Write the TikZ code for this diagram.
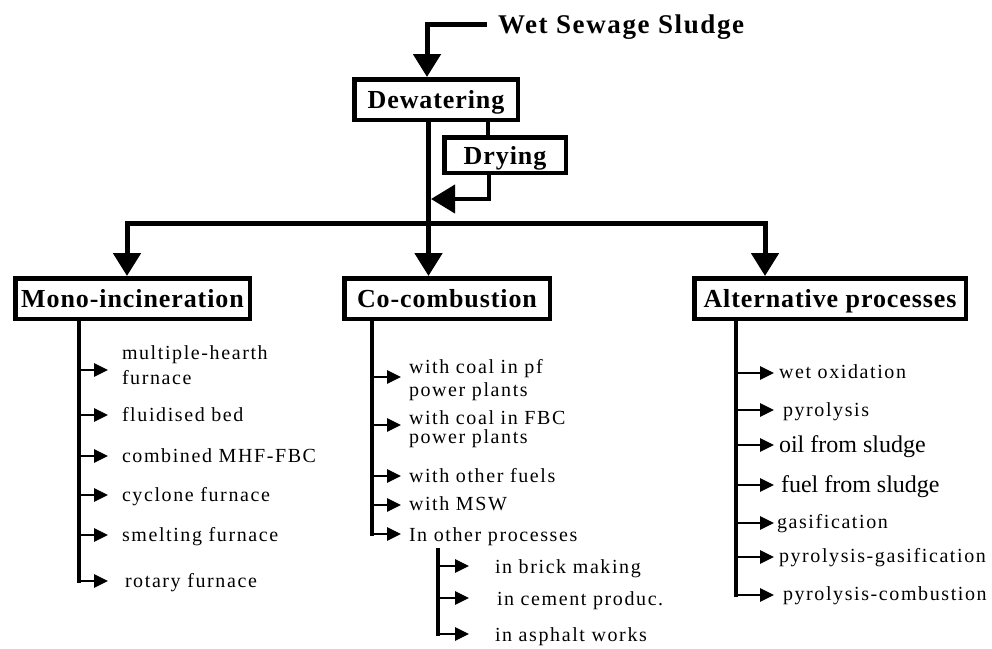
\documentclass[tikz,border=0pt]{standalone}
\usepackage{fontspec}
\setmainfont{Liberation Serif}
\newfontfamily\itemfont[LetterSpace=8]{Liberation Serif}
\newfontfamily\headfont[LetterSpace=3.5]{Liberation Serif}
\newfontfamily\titlefont[LetterSpace=6]{Liberation Serif}
\newfontfamily\plainitemfont{Liberation Serif}
\usetikzlibrary{arrows.meta}
\begin{document}
\begin{tikzpicture}[x=1pt,y=-1pt,
  hbox/.style={draw, line width=4.5pt, inner sep=0pt,
    font=\headfont\bfseries\fontsize{26}{30}\selectfont,
    text height=18pt, text depth=0pt},
  mainln/.style={line width=5pt},
  bigtip/.style={-{Triangle[length=23pt,width=27pt]}},
  midln/.style={line width=4pt},
  trunk/.style={line width=4.5pt, line cap=rect},
  subtrunk/.style={line width=3.5pt, line cap=rect},
  itmarrow/.style={line width=2.8pt, -{Triangle[length=14pt,width=13pt]}},
  itm/.style={anchor=base west, inner sep=0pt, align=left,
    font=\itemfont\fontsize{20}{25}\selectfont},
  bigitm/.style={anchor=base west, inner sep=0pt,
    font=\plainitemfont\fontsize{24}{28}\selectfont}
]
\useasboundingbox (0,0) rectangle (992,648);

% title and top boxes
\node[anchor=base west, inner ysep=0pt, inner xsep=0pt, outer xsep=11pt,
  text height=18pt, text depth=0pt,
  font=\titlefont\bfseries\fontsize{27}{30}\selectfont] (wss) at (487,33) {Wet Sewage Sludge};
\node[hbox, minimum width=163.5pt, minimum height=40.5pt] (dew) at (436,99.5) {Dewatering};
\node[hbox, minimum width=121.5pt, minimum height=35.5pt] (dry) at (505,155) {Drying};

% main boxes
\node[hbox, minimum width=234.5pt, minimum height=40.5pt] (mono) at (132.5,298.5) {Mono-incineration};
\node[hbox, minimum width=205.5pt, minimum height=40.5pt] (co) at (447,298.5) {Co-combustion};
\node[hbox, minimum width=271.5pt, minimum height=40.5pt] (alt) at (830,298.5) {Alternative processes};

% top connectors
\draw[mainln, bigtip] (wss.west) -| ([xshift=-9pt]dew.north);
\draw[midln] ([xshift=52pt]dew.south) -- ([xshift=-17pt]dry.north);
\coordinate (jn) at (431,199);
\draw[midln, -{Triangle[length=24pt,width=28pt]}] ([xshift=-16pt]dry.south) |- (jn);
\coordinate (tx) at (428.5,0);
\draw[mainln, bigtip] (dew.south -| tx) -- (co.north -| tx);
\coordinate (bl) at (127,223);
\coordinate (br) at (765,223);
\draw[mainln, line join=miter, {Triangle[length=23pt,width=27pt]}-{Triangle[length=23pt,width=27pt]}]
  (mono.north -| bl) |- (br) -- (alt.north -| br);

% Mono-incineration items
\coordinate (mx) at (79,0);
\coordinate (m1) at (79,370);
\coordinate (m2) at (79,415);
\coordinate (m3) at (79,456);
\coordinate (m4) at (79,495);
\coordinate (m5) at (79,535);
\coordinate (m6) at (79,581);
\node[itm, outer xsep=14pt] (m1t) at (108,384) {multiple-hearth\\furnace};
\node[itm, outer xsep=14pt] (m2t) at (108,421) {fluidised bed};
\node[itm, outer xsep=14pt] (m3t) at (108,462) {combined MHF-FBC};
\node[itm, outer xsep=14pt] (m4t) at (108,501) {cyclone furnace};
\node[itm, outer xsep=14pt] (m5t) at (108,541) {smelting furnace};
\node[itm, outer xsep=17pt] (m6t) at (108,587) {rotary furnace};
\draw[trunk] (mono.south -| mx) -- (m6);
\foreach \i in {1,...,6} \draw[itmarrow] (m\i) -- (m\i -| m\i t.west);

% Co-combustion items
\coordinate (cx) at (372,0);
\coordinate (c1) at (372,377);
\coordinate (c2) at (372,425);
\coordinate (c3) at (372,476);
\coordinate (c4) at (372,505);
\coordinate (c5) at (372,534);
\node[itm, outer xsep=8pt, font=\itemfont\fontsize{20}{23}\selectfont] (c1t) at (401,396) {with coal in pf\\power plants};
\node[itm, outer xsep=8pt, font=\itemfont\fontsize{20}{19}\selectfont] (c2t) at (401,443) {with coal in FBC\\power plants};
\node[itm, outer xsep=8pt] (c3t) at (401,482) {with other fuels};
\node[itm, outer xsep=8pt] (c4t) at (401,510) {with MSW};
\node[itm, outer xsep=8pt] (c5t) at (401,541) {In other processes};
\draw[trunk] (co.south -| cx) -- (c5);
\foreach \i in {1,...,5} \draw[itmarrow] (c\i) -- (c\i -| c\i t.west);

% sub items
\coordinate (s0) at (438,550);
\coordinate (s1) at (438,566);
\coordinate (s2) at (438,598);
\coordinate (s3) at (438,634);
\node[itm, outer xsep=26pt] (s1t) at (469,573) {in brick making};
\node[itm, outer xsep=28pt] (s2t) at (469,605) {in cement produc.};
\node[itm, outer xsep=26pt] (s3t) at (469,641) {in asphalt works};
\draw[subtrunk] (s0) -- (s3);
\foreach \i in {1,2,3} \draw[itmarrow] (s\i) -- (s\i -| s\i t.west);

% Alternative processes items
\coordinate (ax) at (736,0);
\coordinate (a1) at (736,373);
\coordinate (a2) at (736,410);
\coordinate (a3) at (736,445);
\coordinate (a4) at (736,485);
\coordinate (a5) at (736,523);
\coordinate (a6) at (736,557);
\coordinate (a7) at (736,595);
\node[itm, outer xsep=5pt] (a1t) at (774,378) {wet oxidation};
\node[itm, outer xsep=9pt] (a2t) at (774,416) {pyrolysis};
\node[bigitm, outer xsep=5pt] (a3t) at (774,452) {oil from sludge};
\node[bigitm, outer xsep=7pt] (a4t) at (774,492) {fuel from sludge};
\node[itm, outer xsep=3pt] (a5t) at (774,528) {gasification};
\node[itm, outer xsep=5pt] (a6t) at (774,562) {pyrolysis-gasification};
\node[itm, outer xsep=9pt] (a7t) at (774,600) {pyrolysis-combustion};
\draw[trunk] (alt.south -| ax) -- (a7);
\foreach \i in {1,...,7} \draw[itmarrow] (a\i) -- (a\i -| a\i t.west);
\end{tikzpicture}
\end{document}
